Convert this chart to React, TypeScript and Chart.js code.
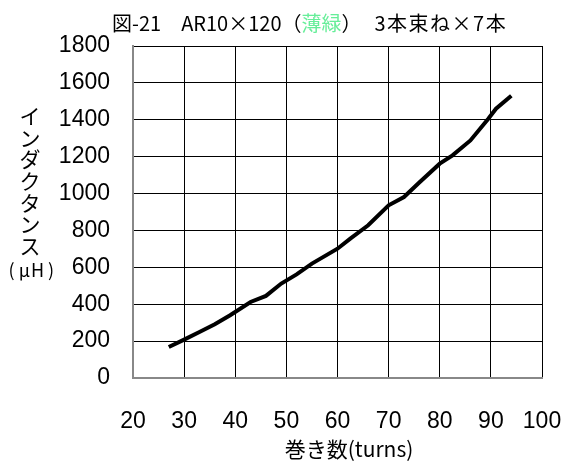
import React, { useEffect, useRef } from "react";
import { Chart, registerables } from "chart.js";

Chart.register(...registerables);

// Turns (x) and measured inductance in µH (y)
const turns = [27, 30, 33, 36, 39, 43, 46, 49, 52, 55, 60, 62.5, 66, 70, 73, 76, 80, 82.5, 86, 89.5, 91, 94];
const inductance = [168, 208, 249, 291, 340, 412, 445, 512, 562, 620, 701, 756, 828, 936, 981, 1060, 1162, 1207, 1288, 1406, 1460, 1530];

const xMin = 20;
const xMax = 100;
const xStep = 10;
const yMin = 0;
const yMax = 1800;
const yStep = 200;

const titlePre = "図-21　AR10×120（";
const titleColored = "薄緑";
const titlePost = "）　3本束ね×7本";
const yTitle = "インダクタンス";
const yUnit = ["(", "μ", "H", ")"];
const xTitle = "巻き数(turns)";

const JP_FONT = "'Noto Sans CJK JP', 'Liberation Sans', sans-serif";
const NUM_FONT = "'Liberation Sans', 'Noto Sans CJK JP', sans-serif";

const textPlugin = {
  id: "chartTexts",
  afterDraw(chart: any) {
    const ctx = chart.ctx as any;
    ctx.save();
    ctx.fillStyle = "#000";
    ctx.textBaseline = "middle";

    // Title, with the colour name in green
    ctx.font = `20px ${JP_FONT}`;
    ctx.textAlign = "left";
    let x = 112;
    const ty = 23;
    ctx.fillText(titlePre, x, ty);
    x += ctx.measureText(titlePre).width;
    ctx.fillStyle = "#66ee99";
    ctx.fillText(titleColored, x, ty);
    x += ctx.measureText(titleColored).width;
    ctx.fillStyle = "#000";
    ctx.letterSpacing = "1.5px";
    ctx.fillText(titlePost, x, ty);
    ctx.letterSpacing = "0px";

    // Vertical y-axis title
    ctx.font = `21px ${JP_FONT}`;
    ctx.textAlign = "center";
    Array.from(yTitle).forEach((c, i) => {
      ctx.fillText(c, 30, 116 + i * 21.7);
    });
    // Unit below it
    ctx.font = `18px ${JP_FONT}`;
    const unitX = [11.5, 24.5, 37.5, 51];
    yUnit.forEach((c, i) => ctx.fillText(c, unitX[i], 270));

    // x-axis title
    ctx.font = `21px ${JP_FONT}`;
    ctx.fillText(xTitle, 349, 449);
    ctx.restore();
  },
};

export default function App() {
  const ref = useRef<HTMLCanvasElement>(null);

  useEffect(() => {
    if (!ref.current) return;
    const chart = new Chart(ref.current, {
      type: "scatter",
      data: {
        datasets: [
          {
            data: turns.map((t, i) => ({ x: t, y: inductance[i] })),
            showLine: true,
            borderColor: "#000",
            borderWidth: 4,
            pointRadius: 0,
            tension: 0,
          },
        ],
      },
      options: {
        responsive: false,
        animation: false,
        events: [],
        layout: { padding: { left: 0, right: 23, top: 46, bottom: 0 } },
        plugins: {
          legend: { display: false },
          title: { display: false },
          tooltip: { enabled: false },
        },
        scales: {
          x: {
            type: "linear",
            min: xMin,
            max: xMax,
            ticks: {
              stepSize: xStep,
              color: "#000",
              font: { family: NUM_FONT, size: 23 },
              padding: 30,
              maxRotation: 0,
              callback: (v: any) => String(v),
            },
            grid: { color: "#000", lineWidth: 1, drawTicks: false },
            border: { color: "#888", width: 2 },
            afterFit: (scale: any) => {
              scale.height = 84;
              scale.paddingLeft = 0;
              scale.paddingRight = 0;
            },
          },
          y: {
            min: yMin,
            max: yMax,
            ticks: {
              stepSize: yStep,
              color: "#000",
              font: { family: NUM_FONT, size: 23 },
              padding: 23,
              callback: (v: any) => String(v),
            },
            grid: { color: "#000", lineWidth: 1, drawTicks: false },
            border: { color: "#888", width: 2 },
            afterFit: (scale: any) => {
              scale.width = 133;
              scale.paddingTop = 0;
              scale.paddingBottom = 0;
            },
          },
        },
      },
      plugins: [textPlugin],
    });
    return () => chart.destroy();
  }, []);

  return (
    <div style={{ position: "fixed", left: 0, top: 0, width: 565, height: 462, background: "#fff" }}>
      <canvas ref={ref} width={565} height={462} style={{ display: "block" }} />
    </div>
  );
}
